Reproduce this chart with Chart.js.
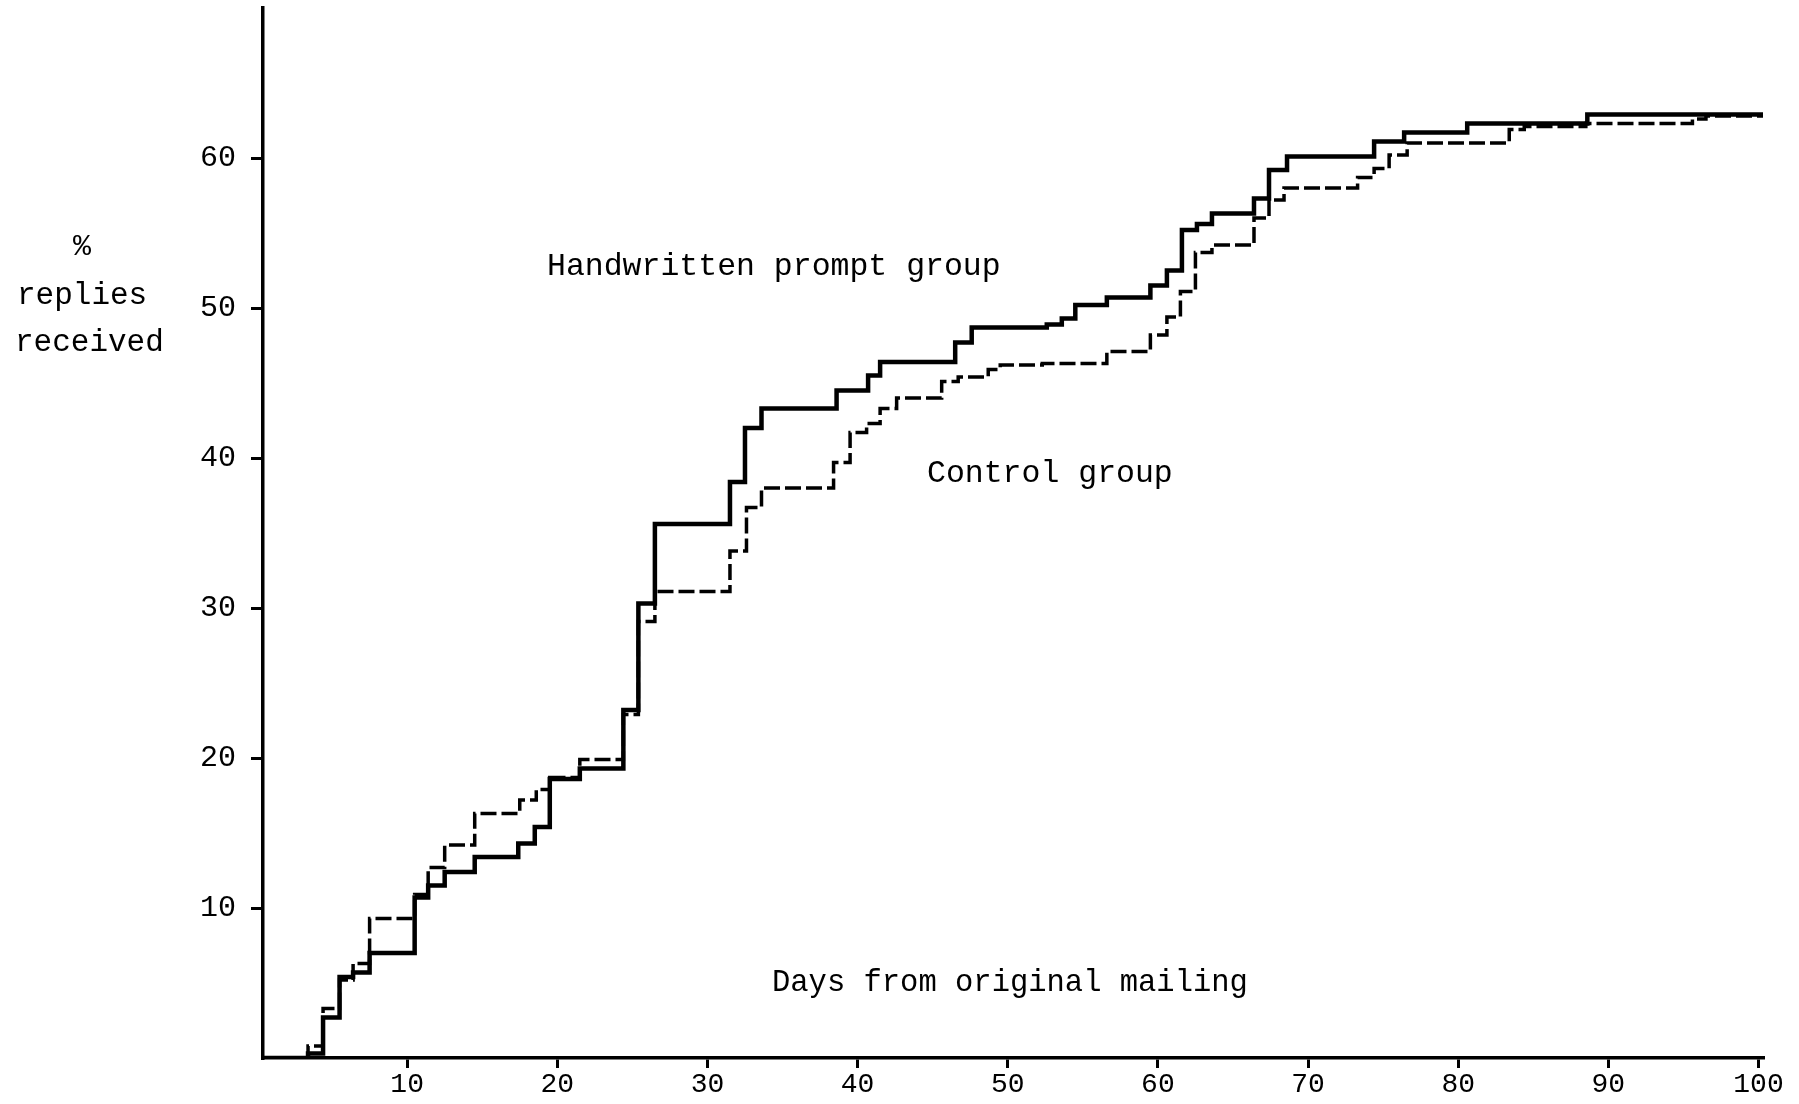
<!DOCTYPE html>
<html>
<head>
<meta charset="utf-8">
<script src="https://cdn.jsdelivr.net/npm/chart.js@4.4.1/dist/chart.umd.min.js"></script>
<style>
  html, body { margin: 0; padding: 0; background: #fff; }
  #wrap { width: 1799px; height: 1104px; }
</style>
</head>
<body>
<div id="wrap"><canvas id="replies-chart" width="1799" height="1104"></canvas></div>
<script>
// days from original mailing where each step starts, and the % reached there
var handDays = [0.4, 3.4, 4.4, 5.5, 6.4, 7.5, 10.5, 11.4, 12.5, 14.5, 17.4, 18.5, 19.5, 21.5, 24.4, 25.4, 26.5,
                31.5, 32.5, 33.6, 38.6, 40.7, 41.5, 46.5, 47.6, 52.6, 53.6, 54.5, 56.6, 59.5, 60.6, 61.6,
                62.6, 63.6, 66.4, 67.4, 68.6, 74.4, 76.4, 80.6, 88.6, 100.3];
var handPct  = [0, 0.3, 2.7, 5.4, 5.7, 7.0, 10.7, 11.5, 12.4, 13.4, 14.3, 15.4, 18.6, 19.3, 23.2, 30.3, 35.6,
                38.4, 42.0, 43.3, 44.5, 45.5, 46.4, 47.7, 48.7, 48.9, 49.3, 50.2, 50.7, 51.5, 52.5, 55.2,
                55.6, 56.3, 57.3, 59.2, 60.1, 61.1, 61.7, 62.3, 62.9, 62.9];

var ctrlDays = [0.4, 3.4, 4.4, 5.5, 6.4, 7.5, 10.5, 11.4, 12.5, 14.5, 17.5, 18.6, 19.5, 21.5, 24.4, 25.4, 26.5,
                31.5, 32.6, 33.6, 38.4, 39.5, 40.6, 41.5, 42.6, 45.6, 46.7, 48.7, 49.5, 52.3, 56.6, 59.5,
                60.6, 61.5, 62.5, 63.6, 66.4, 67.4, 68.4, 73.3, 74.4, 75.4, 76.6, 83.4, 84.4, 88.5, 95.6,
                96.5, 100.3];
var ctrlPct  = [0, 0.8, 3.3, 5.2, 6.3, 9.3, 10.9, 12.7, 14.2, 16.3, 17.2, 17.9, 18.7, 19.9, 22.9, 29.1, 31.1,
                33.8, 36.7, 38.0, 39.7, 41.7, 42.3, 43.3, 44.0, 45.1, 45.4, 45.9, 46.2, 46.3, 47.1, 48.2,
                49.4, 51.1, 53.7, 54.2, 56.0, 57.2, 58.0, 58.7, 59.3, 60.2, 61.0, 61.9, 62.1, 62.3, 62.6,
                62.8, 62.8];

var xTickValues = [10, 20, 30, 40, 50, 60, 70, 80, 90, 100];
var yTickValues = [10, 20, 30, 40, 50, 60];

var notes = [
  { text: '%', x: 73, y: 247, size: 30 },
  { text: 'replies', x: 17, y: 296, size: 31 },
  { text: 'received', x: 15, y: 343, size: 31 },
  { text: 'Handwritten prompt group', x: 547, y: 267, size: 31.5 },
  { text: 'Control group', x: 927, y: 474, size: 31.5 },
  { text: 'Days from original mailing', x: 772, y: 983, size: 30.5 }
];

function toPoints(days, pct) {
  var pts = [];
  for (let i = 0; i < days.length; i++) {
    pts.push({ x: days[i], y: pct[i] });
  }
  return pts;
}

const monoFont = '"Liberation Mono", "DejaVu Sans Mono", monospace';

// typed annotations, drawn after the chart
const notesPlugin = {
  id: 'notes',
  afterDraw(chart) {
    const ctx = chart.ctx;
    ctx.save();
    ctx.fillStyle = '#000';
    ctx.textAlign = 'left';
    ctx.textBaseline = 'middle';
    notes.forEach(n => {
      ctx.font = n.size + 'px ' + monoFont;
      ctx.fillText(n.text, n.x, n.y);
    });
    ctx.restore();
  }
};

new Chart(document.getElementById('replies-chart'), {
  type: 'line',
  data: {
    datasets: [
      {
        label: 'Handwritten prompt group',
        data: toPoints(handDays, handPct),
        borderColor: '#000',
        borderWidth: 4.5,
        stepped: true,
        pointRadius: 0,
        fill: false
      },
      {
        label: 'Control group',
        data: toPoints(ctrlDays, ctrlPct),
        borderColor: '#000',
        borderWidth: 3.5,
        borderDash: [16, 5],
        stepped: true,
        pointRadius: 0,
        fill: false
      }
    ]
  },
  options: {
    responsive: false,
    animation: false,
    layout: { padding: { left: 0, right: 36, top: 8, bottom: 0 } },
    scales: {
      x: {
        type: 'linear',
        min: 0.4,
        max: 100.3,
        afterBuildTicks: s => { s.ticks = xTickValues.map(v => ({ value: v })); },
        afterFit: s => { s.height = 46; s.paddingLeft = 0; s.paddingRight = 0; },
        border: { color: '#000', width: 3.5 },
        grid: { drawOnChartArea: false, drawTicks: true, tickLength: 10, color: '#000', lineWidth: 3 },
        ticks: {
          color: '#000',
          padding: 0,
          maxRotation: 0,
          font: { family: monoFont, size: 28 }
        }
      },
      y: {
        type: 'linear',
        min: 0,
        max: 70,
        afterBuildTicks: s => { s.ticks = yTickValues.map(v => ({ value: v })); },
        afterFit: s => { s.width = 263; s.paddingTop = 0; s.paddingBottom = 0; },
        border: { color: '#000', width: 3.5 },
        grid: { drawOnChartArea: false, drawTicks: true, tickLength: 12, color: '#000', lineWidth: 3 },
        ticks: {
          color: '#000',
          padding: 15,
          font: { family: monoFont, size: 30 }
        }
      }
    },
    plugins: {
      legend: { display: false },
      tooltip: { enabled: false }
    }
  },
  plugins: [notesPlugin]
});
</script>
</body>
</html>
